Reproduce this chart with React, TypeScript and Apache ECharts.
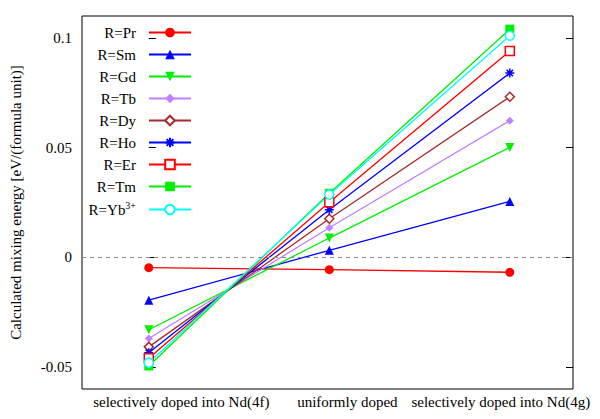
import React, { useEffect, useRef } from "react";
import * as echarts from "echarts";

const categories = [
  "selectively doped into Nd(4f)",
  "uniformly doped",
  "selectively doped into Nd(4g)",
];
const seriesNames = ["R=Pr", "R=Sm", "R=Gd", "R=Tb", "R=Dy", "R=Ho", "R=Er", "R=Tm", "R=Yb3+"];
const valPr = [-0.0047, -0.0056, -0.0068];
const valSm = [-0.0195, 0.0032, 0.0255];
const valGd = [-0.033, 0.0088, 0.0501];
const valTb = [-0.037, 0.0135, 0.0623];
const valDy = [-0.0408, 0.0176, 0.0732];
const valHo = [-0.0435, 0.0217, 0.084];
const valEr = [-0.046, 0.0251, 0.094];
const valTm = [-0.0495, 0.0292, 0.104];
const valYb = [-0.048, 0.0286, 0.101];
const yTicks = [-0.05, 0, 0.05, 0.1];

const FONT = "Liberation Serif";
const FS = 15;

const styles = [
  { color: "#ff0000", symbol: "circle", size: 9, empty: false },
  { color: "#0000ff", symbol: "triangle", size: 9, empty: false },
  { color: "#00ee00", symbol: "path://M0,0 L10,0 L5,9 Z", size: 9, empty: false },
  { color: "#c080ff", symbol: "diamond", size: 8, empty: false },
  { color: "#a52a2a", symbol: "diamond", size: 9, empty: true },
  { color: "#0000ff", symbol: "path://M0,5 L10,5 M5,0 L5,10 M1.5,1.5 L8.5,8.5 M8.5,1.5 L1.5,8.5", size: 9, empty: false, star: true },
  { color: "#ff0000", symbol: "rect", size: 9, empty: true },
  { color: "#00ee00", symbol: "rect", size: 9, empty: false },
  { color: "#00ffff", symbol: "circle", size: 9, empty: true },
];

export default function App() {
  const ref = useRef<HTMLDivElement>(null);
  useEffect(() => {
    if (!ref.current) return;
    const chart = echarts.init(ref.current, null, { renderer: "svg" });
    const allVals = [valPr, valSm, valGd, valTb, valDy, valHo, valEr, valTm, valYb];
    const series: any[] = allVals.map((vals, i) => {
      const st: any = styles[i];
      let itemStyle: any;
      if (st.star) {
        itemStyle = { color: "none", borderColor: st.color, borderWidth: 1.5 };
      } else if (st.empty) {
        itemStyle = { color: "#ffffff", borderColor: st.color, borderWidth: 1.5 };
      } else {
        itemStyle = { color: st.color, borderColor: st.color, borderWidth: 0 };
      }
      const s: any = {
        name: seriesNames[i],
        type: "line",
        data: vals.map((v, j) => [j, v]),
        symbol: st.symbol,
        symbolSize: st.size,
        showAllSymbol: true,
        lineStyle: { color: st.color, width: 1.3 },
        itemStyle,
        emphasis: { disabled: true },
      };
      if (i === 0) {
        s.markLine = {
          silent: true,
          symbol: "none",
          label: { show: false },
          lineStyle: { color: "#888888", type: [4, 4], width: 1 },
          data: [{ yAxis: 0 }],
        };
      }
      return s;
    });
    chart.setOption({
      animation: false,
      backgroundColor: "#ffffff",
      textStyle: { fontFamily: FONT },
      grid: {
        left: 80,
        right: 27,
        top: 16,
        bottom: 30,
        show: true,
        borderColor: "#000000",
        borderWidth: 1,
        backgroundColor: "transparent",
      },
      legend: {
        orient: "vertical",
        align: "right",
        right: 408,
        top: 24,
        padding: 0,
        itemWidth: 42,
        itemHeight: 12,
        itemGap: 5,
        selectedMode: false,
        textStyle: {
          fontFamily: FONT,
          fontSize: FS,
          color: "#000000",
          lineHeight: 17,
          padding: [0, 8, 0, 0],
          rich: {
            b: { fontFamily: FONT, fontSize: FS, color: "#000000" },
            sup: { fontFamily: FONT, fontSize: 10, color: "#000000", padding: [0, 0, 9, 0] },
          },
        },
        formatter: (name: string) => (name === "R=Yb3+" ? "{b|R=Yb}{sup|3+}" : name),
        data: seriesNames,
      },
      xAxis: {
        type: "value",
        min: -0.37,
        max: 2.35,
        splitLine: { show: false },
        axisLine: { show: false },
        axisTick: { show: false },
        axisLabel: {
          customValues: [0.18, 1.1, 1.95],
          formatter: (v: number) => categories[Math.round(v)] ?? "",
          fontFamily: FONT,
          fontSize: FS,
          color: "#000000",
          margin: 5,
        },
      },
      yAxis: [
        {
          type: "value",
          min: -0.06,
          max: 0.11,
          name: "Calculated mixing energy [eV/(formula unit)]",
          nameLocation: "middle",
          nameGap: 59,
          nameTextStyle: { fontFamily: FONT, fontSize: FS, color: "#000000" },
          splitLine: { show: false },
          axisLine: { show: false },
          axisTick: { show: true, inside: true, length: 7, customValues: yTicks, lineStyle: { color: "#000000" } },
          axisLabel: {
            customValues: yTicks,
            formatter: (v: number) => String(Math.round(v * 100) / 100),
            fontFamily: FONT,
            fontSize: FS,
            color: "#000000",
            margin: 10,
          },
        },
        {
          type: "value",
          position: "right",
          min: -0.06,
          max: 0.11,
          splitLine: { show: false },
          axisLine: { show: false },
          axisTick: { show: true, inside: true, length: 7, customValues: yTicks, lineStyle: { color: "#000000" } },
          axisLabel: { show: false, customValues: yTicks },
        },
      ],
      series,
    });
    return () => chart.dispose();
  }, []);
  return <div ref={ref} style={{ width: 600, height: 419, position: "absolute", left: 0, top: 0 }} />;
}
